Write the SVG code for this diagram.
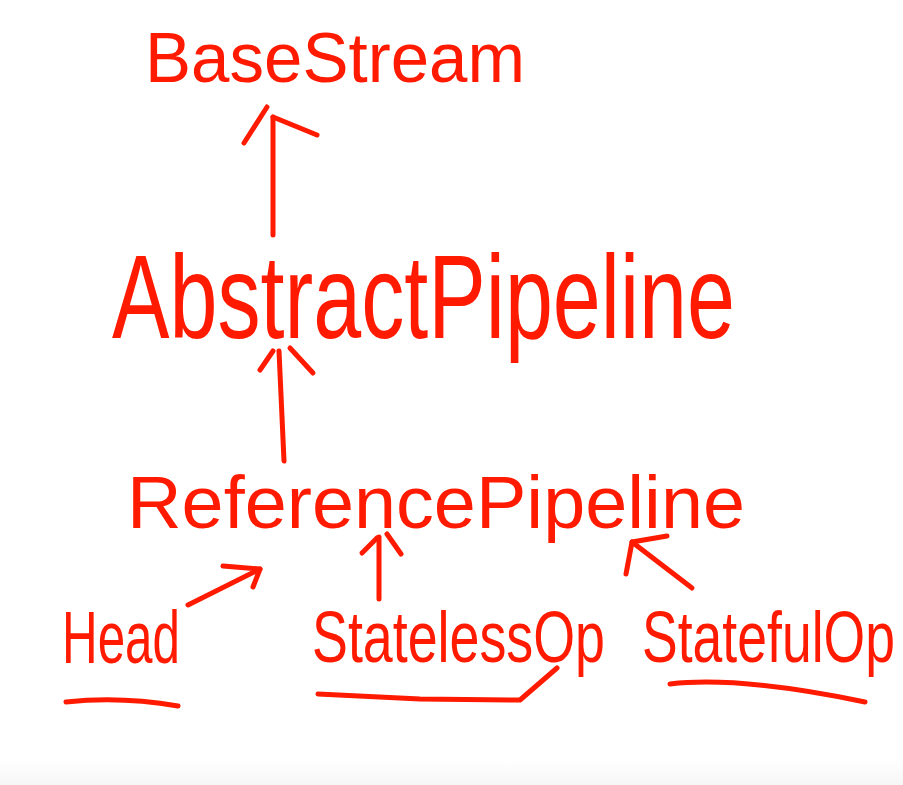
<svg xmlns="http://www.w3.org/2000/svg" width="903" height="785" viewBox="0 0 903 785">
<defs>
<style>
.lbl{font-family:"Liberation Sans","DejaVu Sans",sans-serif;fill:#ff1a00;}
.ink{fill:none;stroke:#ff1a00;stroke-width:5;stroke-linecap:round;stroke-linejoin:round;}
</style>
<linearGradient id="bot" x1="0" y1="0" x2="0" y2="1">
<stop offset="0" stop-color="#ffffff"/>
<stop offset="1" stop-color="#f6f6f6"/>
</linearGradient>
</defs>
<rect width="903" height="785" fill="#ffffff"/>
<rect x="0" y="760" width="903" height="25" fill="url(#bot)"/>

<g id="node-basestream">
<text class="lbl" x="145" y="82" font-size="70" textLength="380" lengthAdjust="spacingAndGlyphs">BaseStream</text>
</g>
<g id="node-abstractpipeline">
<text class="lbl" x="112" y="338" font-size="118" textLength="623" lengthAdjust="spacingAndGlyphs">AbstractPipeline</text>
</g>
<g id="node-referencepipeline">
<text class="lbl" x="127" y="528" font-size="74" textLength="618" lengthAdjust="spacingAndGlyphs">ReferencePipeline</text>
</g>
<g id="node-head">
<text class="lbl" x="62" y="663" font-size="74" textLength="118" lengthAdjust="spacingAndGlyphs">Head</text>
<path class="ink" d="M66,702 Q120,696 178,706"/>
</g>
<g id="node-statelessop">
<text class="lbl" x="312" y="662" font-size="72" textLength="293" lengthAdjust="spacingAndGlyphs">StatelessOp</text>
<path class="ink" d="M318,694 L420,699 L520,700 L557,668"/>
</g>
<g id="node-statefulop">
<text class="lbl" x="642" y="662" font-size="72" textLength="253" lengthAdjust="spacingAndGlyphs">StatefulOp</text>
<path class="ink" d="M670,684 Q740,676 865,702"/>
</g>

<g id="connectors">
<!-- AbstractPipeline -> BaseStream -->
<path class="ink" d="M273,235 L273,117"/>
<path class="ink" d="M244,143 L267,107"/>
<path class="ink" d="M273,117 L317,135"/>
<!-- ReferencePipeline -> AbstractPipeline -->
<path class="ink" d="M284,461 L279,351"/>
<path class="ink" d="M260,370 L273,351"/>
<path class="ink" d="M290,348 L313,373"/>
<!-- Head -> ReferencePipeline -->
<path class="ink" d="M188,605 L260,569"/>
<path class="ink" d="M223,566 L260,569 L253,587"/>
<!-- StatelessOp -> ReferencePipeline -->
<path class="ink" d="M379,599 L379,537"/>
<path class="ink" d="M362,553 L377,538"/>
<path class="ink" d="M387,534 L401,554"/>
<!-- StatefulOp -> ReferencePipeline -->
<path class="ink" d="M692,588 L632,542"/>
<path class="ink" d="M667,536 L632,542 L626,574"/>
</g>
</svg>
